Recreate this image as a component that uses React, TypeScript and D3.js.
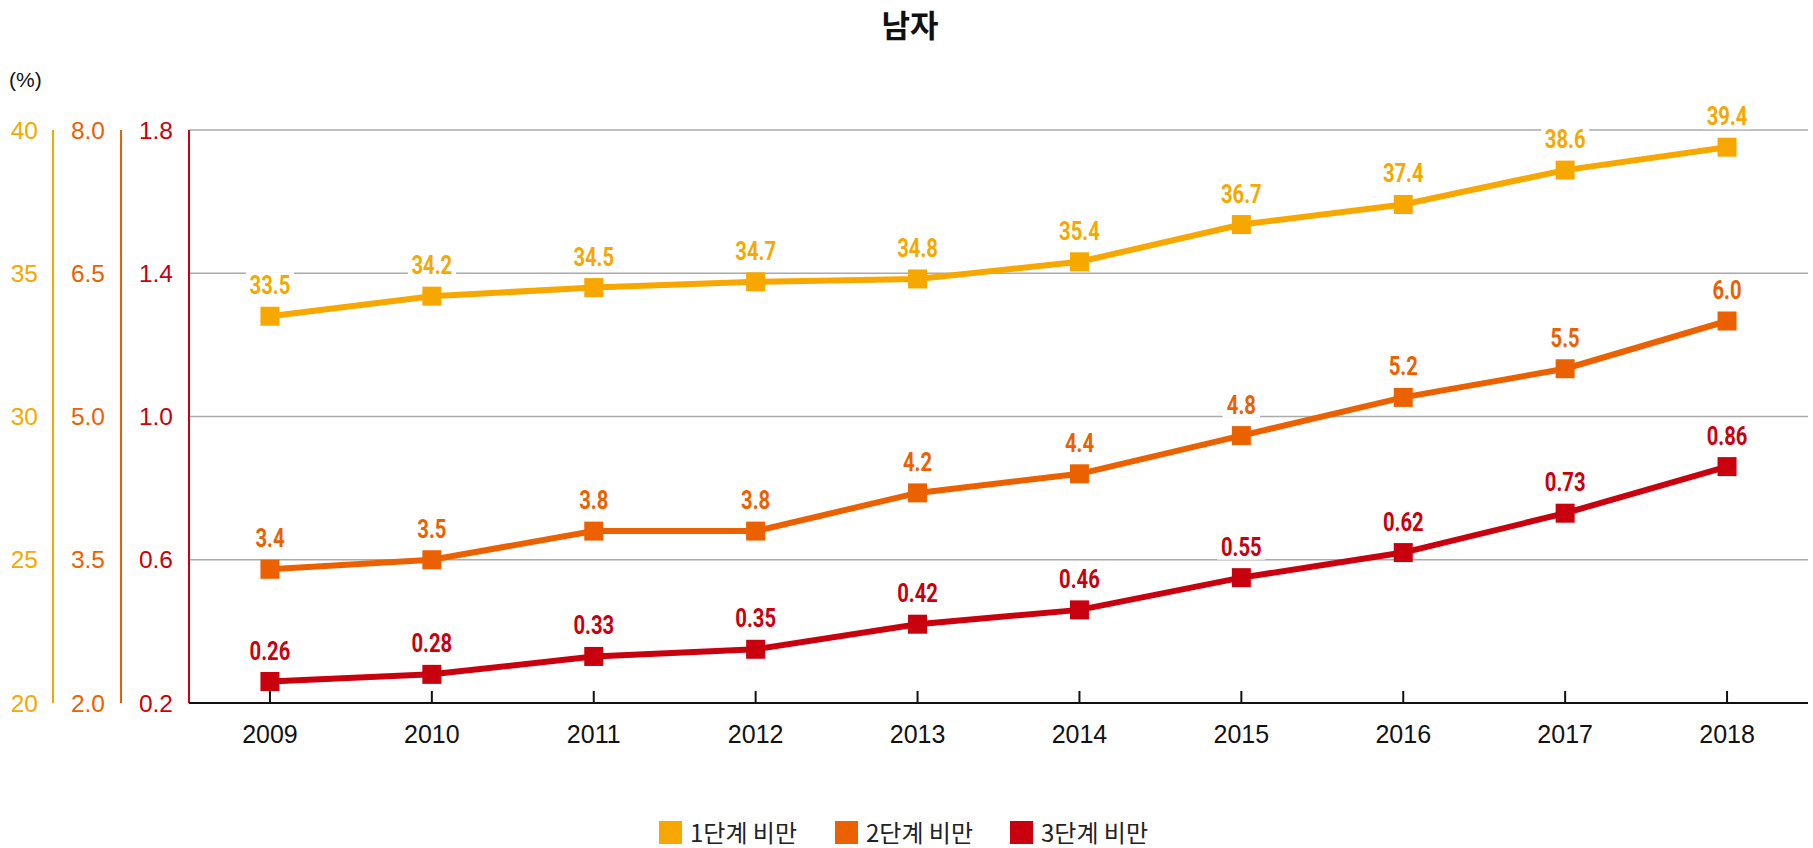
import React from 'react';
import * as d3 from 'd3';

const years = ['2009', '2010', '2011', '2012', '2013', '2014', '2015', '2016', '2017', '2018'];
const stage1 = [33.5, 34.2, 34.5, 34.7, 34.8, 35.4, 36.7, 37.4, 38.6, 39.4];
const stage2 = [3.4, 3.5, 3.8, 3.8, 4.2, 4.4, 4.8, 5.2, 5.5, 6.0];
const stage3 = [0.26, 0.28, 0.33, 0.35, 0.42, 0.46, 0.55, 0.62, 0.73, 0.86];
const ticks1 = [20, 25, 30, 35, 40];
const ticks2 = [2.0, 3.5, 5.0, 6.5, 8.0];
const ticks3 = [0.2, 0.6, 1.0, 1.4, 1.8];
const seriesNames = ['1단계 비만', '2단계 비만', '3단계 비만'];

const width = 1813;
const height = 848;
const left = 189;
const right = 1808;
const top = 130;
const bottom = 703;

const colors = ['#F6A800', '#EB6100', '#C9000D'];

const x = d3.scaleBand().domain(years).range([left, right]);
const y1 = d3.scaleLinear().domain([20, 40]).range([bottom, top]);
const y2 = d3.scaleLinear().domain([2, 8]).range([bottom, top]);
const y3 = d3.scaleLinear().domain([0.2, 1.8]).range([bottom, top]);

const series = [
  { values: stage1, y: y1, fmt: d3.format('.1f') },
  { values: stage2, y: y2, fmt: d3.format('.1f') },
  { values: stage3, y: y3, fmt: d3.format('.2f') },
];

const cx = (yr: string) => (x(yr) as number) + x.bandwidth() / 2;
const baseFont = '"Liberation Sans", Arial, sans-serif';
const krFont = '"Noto Sans CJK KR", sans-serif';

const App = () => {
  const axisDefs = [
    { ticks: ticks1, y: y1, fmt: d3.format('d'), labelX: 38, lineX: 53, color: colors[0] },
    { ticks: ticks2, y: y2, fmt: d3.format('.1f'), labelX: 105, lineX: 121, color: colors[1] },
    { ticks: ticks3, y: y3, fmt: d3.format('.1f'), labelX: 173, lineX: left, color: colors[2] },
  ];
  const legendX = [659, 835, 1010];

  return (
    <svg width={width} height={height} style={{ position: 'absolute', left: 0, top: 0, display: 'block' }}>
      <text x={910} y={37} textAnchor="middle" fontSize={31} fontWeight="bold"
        fontFamily={krFont} fill="#111">남자</text>
      <text x={9} y={87} fontSize={21} fontFamily={baseFont} fill="#111">(%)</text>

      {ticks3.slice(1).map((t) => (
        <line key={t} x1={left} x2={right} y1={y3(t)} y2={y3(t)} stroke="#aaa" strokeWidth={1.5} />
      ))}

      {axisDefs.map((a, i) => (
        <g key={i}>
          <line x1={a.lineX} x2={a.lineX} y1={top} y2={bottom} stroke={a.color} strokeWidth={2} />
          {a.ticks.map((t) => (
            <text key={t} x={a.labelX} y={a.y(t)} dy="0.35em" textAnchor="end" fontSize={24.5}
              fontFamily={baseFont} fill={a.color}>{a.fmt(t)}</text>
          ))}
        </g>
      ))}

      <line x1={left} x2={right} y1={bottom} y2={bottom} stroke="#111" strokeWidth={2} />
      {years.map((yr) => (
        <g key={yr}>
          <line x1={cx(yr)} x2={cx(yr)} y1={bottom} y2={bottom - 12} stroke="#111" strokeWidth={2} />
          <text x={cx(yr)} y={bottom + 40} textAnchor="middle" fontSize={25} fontFamily={baseFont}
            fill="#111">{yr}</text>
        </g>
      ))}

      {series.map((s, i) => {
        const line = d3.line<number>().x((_, j) => cx(years[j])).y((d) => s.y(d));
        return (
          <g key={i}>
            <path d={line(s.values) || ''} fill="none" stroke={colors[i]} strokeWidth={6} />
            {s.values.map((v, j) => (
              <rect key={j} x={cx(years[j]) - 9.5} y={s.y(v) - 9.5} width={19} height={19} fill={colors[i]} />
            ))}
          </g>
        );
      })}

      {series.map((s, i) => (
        <g key={'l' + i}>
          {s.values.map((v, j) => {
            const txt = s.fmt(v);
            const w = txt.length * 10.5 + 6;
            const by = s.y(v) - 22;
            return (
              <g key={j} transform={`translate(${cx(years[j])},${by})`}>
                <rect x={-w / 2} y={-22} width={w} height={26} fill="#fff" />
                <text transform="scale(0.81,1)" textAnchor="middle" fontSize={25} fontWeight="bold"
                  fontFamily="Roboto, sans-serif" fill={colors[i]}>{txt}</text>
              </g>
            );
          })}
        </g>
      ))}

      {seriesNames.map((n, i) => (
        <g key={n}>
          <rect x={legendX[i]} y={821} width={23} height={23} fill={colors[i]} />
          <text x={legendX[i] + 31} y={842} fontSize={24} fontFamily={krFont} fill="#222">{n}</text>
        </g>
      ))}
    </svg>
  );
};

export default App;
